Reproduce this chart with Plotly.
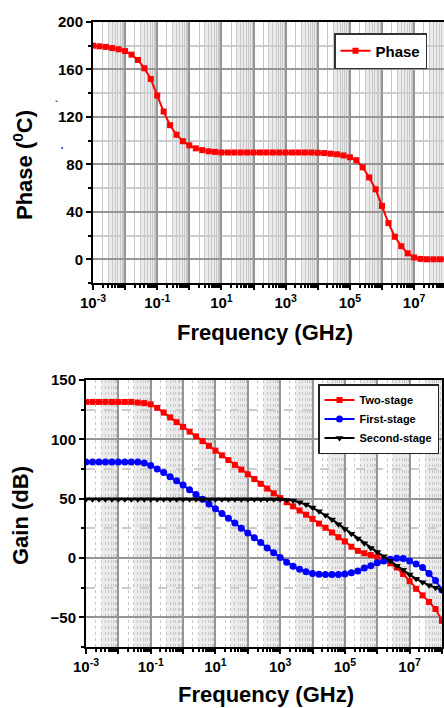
import plotly.graph_objects as go

# ---------------- data ----------------
freq_exp = [-3.0, -2.8, -2.6, -2.4, -2.2, -2.0, -1.8, -1.6, -1.4, -1.2,
            -1.0, -0.8, -0.6, -0.4, -0.2, 0.0, 0.2, 0.4, 0.6, 0.8,
            1.0, 1.2, 1.4, 1.6, 1.8, 2.0, 2.2, 2.4, 2.6, 2.8,
            3.0, 3.2, 3.4, 3.6, 3.8, 4.0, 4.2, 4.4, 4.6, 4.8,
            5.0, 5.2, 5.4, 5.6, 5.8, 6.0, 6.2, 6.4, 6.6, 6.8,
            7.0, 7.2, 7.4, 7.6, 7.8, 8.0]
freq_ghz = [10 ** e for e in freq_exp]

phase = [180, 179.5, 179, 178, 177, 175.5, 172.5, 168, 161, 152,
         138, 124.5, 113, 105, 99.5, 96, 93.5, 92, 91, 90.5,
         90, 90, 90, 90, 90, 90, 90, 90, 90, 90,
         90, 90, 90, 90, 90, 89.8, 89.5, 89, 88.5, 87.5,
         86, 83.5, 77.5, 69, 59, 45, 30.5, 19, 11, 5,
         1.5, 0.3, 0, 0, 0, 0]

gain_two_stage = [131.5, 131.5, 131.5, 131.5, 131.5, 131.5, 131.5, 131.5, 131, 130.5,
                  129.5, 126.5, 122.5, 118.5, 114.5, 110.5, 106.5, 102.5, 98.5, 94.5,
                  90.5, 86.5, 82.5, 78.5, 74.5, 70.5, 66.5, 62.5, 58.5, 54.5,
                  50.5, 47, 43.5, 40, 36.5, 33, 29, 25.5, 21.5, 17.5,
                  14, 9.5, 6, 4, 2.5, 1, -1.5, -4.5, -8, -13.5,
                  -19.5, -26, -31.5, -37, -43, -53]

gain_first_stage = [81, 81, 81, 81, 81, 81, 81, 81, 80.8, 80,
                    78, 75, 72, 68.5, 65, 61.5, 57.5, 53.5, 49.5, 45.5,
                    41.5, 37.5, 33.5, 29.5, 25, 21, 17, 13, 8.5, 4.5,
                    0.5, -3.5, -7, -9.5, -11.5, -13, -13.7, -14, -14, -14,
                    -13.5, -12.5, -11, -8.5, -6.5, -4, -2.5, -1, -0.3, -0.5,
                    -2.5, -5, -8, -13, -19, -27]

gain_second_stage = [49.5, 49.5, 49.5, 49.5, 49.5, 49.5, 49.5, 49.5, 49.5, 49.5,
                     49.5, 49.5, 49.5, 49.5, 49.5, 49.5, 49.5, 49.5, 49.5, 49.5,
                     49.5, 49.5, 49.5, 49.5, 49.5, 49.5, 49.5, 49.5, 49.5, 49.5,
                     49.5, 49, 48.5, 47, 45, 42.5, 39.5, 36, 32.5, 28.5,
                     24.5, 20.5, 16.5, 12.5, 8.5, 5, 1.5, -2.5, -6.5, -10,
                     -14, -17.5, -20.5, -23, -25, -27]

decades = [-3, -2, -1, 0, 1, 2, 3, 4, 5, 6, 7, 8]
decade_labels = ["10<sup>-3</sup>", "", "10<sup>-1</sup>", "", "10<sup>1</sup>", "",
                 "10<sup>3</sup>", "", "10<sup>5</sup>", "", "10<sup>7</sup>", ""]
phase_ticks = [0, 40, 80, 120, 160, 200]
gain_ticks = [-50, 0, 50, 100, 150]

# ---------------- figure ----------------
W, H = 444, 708
FONT = "Arial, Liberation Sans, sans-serif"

def px_x(p):
    return p / W

def px_y(p):
    return 1 - p / H

fig = go.Figure()

fig.add_trace(go.Scatter(
    x=freq_ghz, y=phase, name="Phase", mode="lines+markers",
    line=dict(color="#ff0000", width=2),
    marker=dict(symbol="square", size=6, color="#ff0000"),
    xaxis="x", yaxis="y", legend="legend"))

fig.add_trace(go.Scatter(
    x=freq_ghz, y=gain_two_stage, name="Two-stage", mode="lines+markers",
    line=dict(color="#ff0000", width=2),
    marker=dict(symbol="square", size=6, color="#ff0000"),
    xaxis="x2", yaxis="y2", legend="legend2"))
fig.add_trace(go.Scatter(
    x=freq_ghz, y=gain_first_stage, name="First-stage", mode="lines+markers",
    line=dict(color="#0000ff", width=2),
    marker=dict(symbol="circle", size=7, color="#0000ff"),
    xaxis="x2", yaxis="y2", legend="legend2"))
fig.add_trace(go.Scatter(
    x=freq_ghz, y=gain_second_stage, name="Second-stage", mode="lines+markers",
    line=dict(color="#000000", width=2),
    marker=dict(symbol="triangle-down", size=7, color="#000000"),
    xaxis="x2", yaxis="y2", legend="legend2"))

tickfont = dict(family=FONT, size=15, color="black", weight="bold")

def xaxis_common(dom, rng, anchor, minor_dash):
    return dict(
        type="log", domain=dom, range=rng, anchor=anchor, automargin=False,
        tickmode="array", tickvals=[10 ** d for d in decades], ticktext=decade_labels,
        tickfont=tickfont, ticks="outside", ticklen=5, tickwidth=1.5, tickcolor="black",
        showline=True, linecolor="black", linewidth=2, mirror=True,
        showgrid=True, gridcolor="#959595", gridwidth=1.5,
        minor=dict(dtick="D1", showgrid=True, gridcolor="#c8c8c8", gridwidth=1,
                   griddash=minor_dash, ticks="outside", ticklen=3, tickcolor="black"),
        zeroline=False, fixedrange=True)

def yaxis_common(dom, rng, anchor, ticks, minor_step, minor_dash):
    return dict(
        domain=dom, range=rng, anchor=anchor, automargin=False,
        tickmode="array", tickvals=ticks, tickfont=tickfont,
        ticks="outside", ticklen=5, tickwidth=1.5, tickcolor="black",
        showline=True, linecolor="black", linewidth=2, mirror=True,
        showgrid=True, gridcolor="#959595", gridwidth=1.5,
        minor=dict(dtick=minor_step, tick0=0, showgrid=True, gridcolor="#cccccc",
                   griddash=minor_dash, ticks="outside", ticklen=3, tickcolor="black"),
        zeroline=False, fixedrange=True)

fig.update_layout(
    width=W, height=H, margin=dict(l=0, r=0, t=0, b=0, autoexpand=False),
    paper_bgcolor="white", plot_bgcolor="white",
    font=dict(family=FONT, color="black"),
    xaxis=xaxis_common([px_x(93), 1.0], [-3, 7.93], "y", "solid"),
    yaxis=yaxis_common([px_y(283), px_y(22)], [-20, 200], "x", phase_ticks, 20, "solid"),
    xaxis2=xaxis_common([px_x(86), px_x(442)], [-3, 8], "y2", "dot"),
    yaxis2=yaxis_common([px_y(647), px_y(380)], [-75, 150], "x2", gain_ticks, 25, "dash"),
    legend=dict(x=px_x(334), y=px_y(33), xanchor="left", yanchor="top",
                bgcolor="white", bordercolor="#333333", borderwidth=1.5,
                font=dict(family=FONT, size=15, color="black", weight="bold"),
                itemwidth=30, tracegroupgap=0),
    legend2=dict(x=px_x(318), y=px_y(384), xanchor="left", yanchor="top",
                 bgcolor="white", bordercolor="#222222", borderwidth=1.5,
                 font=dict(family=FONT, size=11, color="black", weight="bold"),
                 itemwidth=30, tracegroupgap=0),
    showlegend=True,
)

# shaded upper part of each decade (dense minor grid look)
for xr, yr in (("x", "y domain"), ("x2", "y2 domain")):
    for d in decades[:-1]:
        fig.add_shape(type="rect", xref=xr, yref=yr,
                      x0=3 * 10 ** d, x1=10 ** (d + 1), y0=0, y1=1,
                      fillcolor="rgba(0,0,0,0.08)", line=dict(width=0), layer="below")

title_font = dict(family=FONT, size=22, color="black", weight="bold")
fig.add_annotation(text="Frequency (GHz)", xref="paper", yref="paper",
                   x=px_x(265), y=px_y(332), showarrow=False, font=title_font,
                   xanchor="center", yanchor="middle")
fig.add_annotation(text="Phase (<sup>0</sup>C)", xref="paper", yref="paper",
                   x=px_x(23), y=px_y(165), showarrow=False, font=title_font,
                   textangle=-90, xanchor="center", yanchor="middle")
fig.add_annotation(text="Frequency (GHz)", xref="paper", yref="paper",
                   x=px_x(266), y=px_y(694), showarrow=False, font=title_font,
                   xanchor="center", yanchor="middle")
fig.add_annotation(text="Gain (dB)", xref="paper", yref="paper",
                   x=px_x(20), y=px_y(516), showarrow=False, font=title_font,
                   textangle=-90, xanchor="center", yanchor="middle")
# small stray marks next to the phase axis
fig.add_annotation(text="`", xref="paper", yref="paper", x=px_x(53), y=px_y(97),
                   showarrow=False, font=dict(family=FONT, size=9, color="black", weight="bold"))
fig.add_annotation(text="'", xref="paper", yref="paper", x=px_x(59), y=px_y(143),
                   showarrow=False, font=dict(family=FONT, size=9, color="black", weight="bold"))

fig.write_html("out.html", config={"displayModeBar": False},
               post_script="document.body.style.margin='0px';"
                           "document.body.style.overflow='hidden';")
